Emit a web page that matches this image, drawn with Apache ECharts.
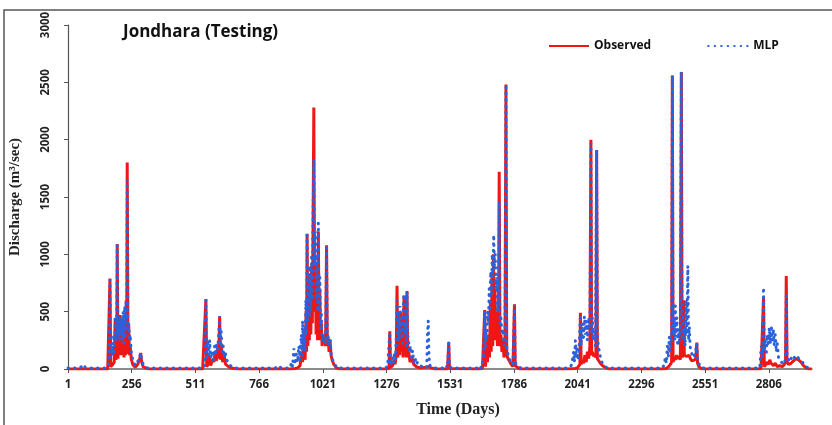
<!DOCTYPE html>
<html>
<head>
<meta charset="utf-8">
<script src="https://cdn.jsdelivr.net/npm/echarts@6/dist/echarts.min.js"></script>
<style>
  html, body { margin: 0; padding: 0; background: #fff; }
  #chart { width: 832px; height: 425px; }
</style>
</head>
<body>
<div id="chart"></div>
<script>
  // tick labels on the day axis
  const xTickLabels = [1, 256, 511, 766, 1021, 1276, 1531, 1786, 2041, 2296, 2551, 2806];
  const yTicks = [0, 500, 1000, 1500, 2000, 2500, 3000];

  // observed discharge, [day, m3/sec]
  const observed = [
    [1,0],[160,0],[166,10],[169,790],[172,20],[180,40],[186,60],[190,440],[193,80],[196,120],[198,1090],[201,90],
    [204,460],[207,150],[210,470],[213,120],[216,440],[219,180],[222,420],[225,100],[228,300],[231,120],[234,600],
    [236,130],[238,1800],[241,160],[244,380],[247,120],[250,200],[254,90],[260,40],[270,15],[280,40],[288,90],
    [292,140],[296,60],[302,20],[315,5],[330,0],
    [540,0],[548,5],[553,610],[556,20],[562,40],[568,120],[572,30],[580,80],[585,60],[590,150],[595,70],[600,200],
    [604,90],[608,460],[611,80],[615,200],[620,60],[626,120],[632,40],[640,30],[650,10],[665,5],[680,0],
    [890,0],[910,5],[920,10],[930,30],[936,150],[940,60],[945,300],[950,80],[954,500],[956,150],[958,1180],[961,200],
    [964,600],[967,250],[970,800],[973,300],[976,900],[979,400],[982,1300],[985,2280],[988,500],[991,900],[994,300],
    [997,600],[1000,250],[1003,1200],[1006,300],[1009,700],[1012,250],[1015,400],[1018,200],[1021,300],[1024,250],
    [1028,280],[1032,200],[1036,1080],[1039,200],[1042,280],[1046,150],[1050,250],[1054,120],[1058,80],[1065,40],
    [1075,10],[1090,0],
    [1270,0],[1286,5],[1289,330],[1292,10],[1300,30],[1306,80],[1310,40],[1315,120],[1318,725],[1321,100],[1325,400],
    [1328,120],[1332,500],[1335,150],[1338,300],[1342,100],[1346,640],[1349,120],[1352,250],[1355,100],[1358,680],
    [1361,100],[1365,150],[1370,60],[1378,100],[1385,40],[1395,20],[1410,10],[1430,15],[1443,20],[1455,10],[1470,0],
    [1520,0],[1522,5],[1525,230],[1528,5],[1535,0],
    [1640,0],[1660,5],[1666,20],[1669,515],[1672,20],[1676,150],[1680,60],[1684,300],[1688,100],[1692,600],[1695,150],
    [1698,800],[1701,200],[1704,1000],[1707,300],[1710,700],[1713,250],[1716,500],[1720,200],[1724,300],[1727,1720],
    [1730,200],[1734,300],[1738,150],[1742,250],[1746,100],[1750,150],[1754,2480],[1757,150],[1760,100],[1765,80],
    [1770,60],[1775,40],[1782,20],[1788,565],[1791,30],[1796,20],[1805,5],[1815,0],
    [2000,0],[2030,5],[2040,10],[2046,20],[2050,40],[2052,490],[2055,40],[2060,80],[2065,50],[2070,120],[2075,60],
    [2080,150],[2085,90],[2090,200],[2094,2000],[2097,120],[2100,150],[2105,110],[2110,130],[2114,100],[2117,1910],
    [2120,90],[2126,70],[2132,50],[2140,30],[2150,15],[2160,5],[2170,0],
    [2380,0],[2395,5],[2405,20],[2412,40],[2417,60],[2420,2560],[2423,60],[2428,100],[2432,80],[2437,120],[2442,90],
    [2447,110],[2452,80],[2456,2590],[2459,100],[2462,120],[2465,600],[2468,120],[2472,130],[2477,110],[2482,100],
    [2487,120],[2492,90],[2498,70],[2504,60],[2510,80],[2514,100],[2518,230],[2521,50],[2526,20],[2535,5],[2545,0],
    [2760,0],[2775,5],[2780,20],[2785,620],[2788,20],[2795,30],[2800,60],[2805,40],[2810,80],[2815,50],[2820,60],
    [2825,30],[2832,50],[2840,20],[2850,30],[2860,20],[2868,40],[2873,60],[2876,810],[2879,60],[2885,40],[2895,50],
    [2905,70],[2915,90],[2925,80],[2935,60],[2945,30],[2955,10],[2965,0],[2978,0]
  ];

  // MLP prediction, [day, m3/sec]
  const mlp = [
    [1,8],[40,8],[55,20],[62,40],[70,15],[90,8],[150,8],[160,20],[166,60],[169,780],[172,100],[176,200],[180,120],
    [184,300],[187,150],[190,460],[193,250],[196,400],[198,1080],[201,300],[204,450],[207,250],[210,460],[213,300],
    [216,430],[219,250],[222,500],[225,200],[228,550],[231,300],[234,600],[236,400],[238,1650],[241,350],[244,400],
    [247,250],[250,300],[254,150],[258,100],[264,60],[270,30],[278,40],[284,80],[288,110],[292,140],[296,80],
    [302,40],[310,20],[320,8],
    [530,8],[548,20],[553,600],[556,100],[560,250],[564,120],[568,250],[572,100],[578,150],[582,80],[588,200],
    [592,120],[596,220],[600,150],[604,300],[608,460],[611,200],[614,330],[618,150],[622,200],[626,100],[630,150],
    [636,80],[642,60],[650,30],[660,20],[670,8],
    [830,8],[842,30],[855,8],
    [880,8],[890,10],[896,60],[900,20],[905,180],[910,40],[915,130],[920,60],[925,200],[930,80],[935,300],[938,120],
    [940,420],[943,200],[947,350],[950,150],[953,600],[956,300],[958,1170],[961,400],[964,800],[967,450],[970,900],
    [973,500],[976,1000],[979,600],[982,1400],[985,1830],[988,900],[991,1200],[994,600],[997,1000],[1000,500],
    [1003,1270],[1006,500],[1009,800],[1012,350],[1015,500],[1018,250],[1021,300],[1024,290],[1028,300],[1032,220],
    [1036,1060],[1039,250],[1042,290],[1046,200],[1050,260],[1055,120],[1060,80],[1066,60],[1072,30],[1080,10],
    [1095,8],
    [1270,8],[1280,20],[1286,10],[1289,320],[1292,30],[1300,100],[1304,50],[1308,150],[1312,80],[1315,300],
    [1318,600],[1321,200],[1324,500],[1327,250],[1330,550],[1333,300],[1337,450],[1340,200],[1344,600],[1346,650],
    [1349,300],[1352,400],[1355,200],[1358,670],[1361,300],[1364,250],[1368,150],[1372,200],[1376,100],[1380,160],
    [1385,60],[1390,100],[1395,40],[1400,60],[1410,30],[1420,20],[1437,10],[1440,300],[1443,420],[1446,100],
    [1450,30],[1460,10],[1480,8],[1508,10],[1514,30],[1520,10],[1525,230],[1528,20],[1540,8],
    [1630,8],[1640,10],[1650,30],[1655,10],[1660,50],[1664,100],[1669,500],[1672,200],[1675,350],[1678,250],
    [1681,500],[1684,400],[1687,700],[1690,500],[1693,850],[1696,650],[1699,1000],[1702,800],[1705,1170],[1708,900],
    [1711,1000],[1714,700],[1717,800],[1720,500],[1724,600],[1727,1460],[1730,400],[1734,450],[1738,300],[1742,350],
    [1746,200],[1750,250],[1754,2460],[1757,200],[1760,150],[1765,100],[1770,80],[1776,60],[1782,40],[1788,560],
    [1791,60],[1796,40],[1805,20],[1815,8],
    [1990,8],[2005,8],[2015,30],[2020,80],[2025,150],[2028,60],[2032,250],[2035,100],[2038,200],[2042,80],[2046,150],
    [2052,470],[2055,200],[2060,400],[2064,250],[2068,460],[2072,300],[2076,420],[2080,250],[2085,450],[2090,350],
    [2094,1970],[2097,300],[2100,450],[2104,250],[2108,350],[2112,200],[2117,1910],[2120,300],[2124,200],[2128,150],
    [2134,80],[2140,50],[2148,30],[2158,10],[2175,8],
    [2370,8],[2380,8],[2386,30],[2392,100],[2396,50],[2400,200],[2404,100],[2408,280],[2412,150],[2417,300],
    [2420,2560],[2423,300],[2427,450],[2430,250],[2432,550],[2435,300],[2438,450],[2441,200],[2444,350],[2448,250],
    [2452,300],[2456,2590],[2459,250],[2462,450],[2465,300],[2468,350],[2471,200],[2475,600],[2478,300],[2482,900],
    [2485,250],[2488,370],[2491,200],[2495,150],[2500,120],[2506,100],[2512,150],[2518,220],[2521,80],[2528,40],
    [2536,10],[2550,8],
    [2750,8],[2770,10],[2776,200],[2780,100],[2785,710],[2788,150],[2792,250],[2796,120],[2800,300],[2804,200],
    [2808,360],[2812,220],[2816,380],[2820,250],[2824,350],[2828,200],[2832,300],[2836,150],[2840,220],[2845,100],
    [2850,80],[2856,60],[2862,50],[2868,40],[2873,100],[2876,640],[2879,120],[2885,80],[2890,60],[2897,100],
    [2905,80],[2912,120],[2920,110],[2928,90],[2936,80],[2945,50],[2955,20],[2965,8],[2978,8]
  ];

  const chart = echarts.init(document.getElementById('chart'));

  // axis runs from day 1, so shift everything by one day
  const shift = d => d.map(p => [p[0] - 1, p[1]]);

  chart.setOption({
    animation: false,
    backgroundColor: '#fff',
    title: {
      text: 'Jondhara (Testing)',
      left: 118,
      top: 19,
      textStyle: { fontFamily: 'Open Sans', fontWeight: 'bold', fontSize: 17, color: '#111' }
    },
    legend: {
      left: 543,
      top: 35,
      itemWidth: 40,
      itemHeight: 10,
      itemGap: 56,
      itemStyle: { opacity: 0 },
      textStyle: { fontFamily: 'Open Sans', fontWeight: 'bold', fontSize: 12, color: '#111' },
      data: ['Observed', 'MLP']
    },
    graphic: [{
      type: 'rect',
      shape: { x: 4, y: 10, width: 840, height: 430 },
      style: { fill: null, stroke: '#555', lineWidth: 1.5 },
      silent: true
    }],
    grid: { left: 68, right: 20, top: 25, bottom: 56 },
    xAxis: {
      type: 'value',
      min: 0,
      max: 2978,
      name: 'Time (Days)',
      nameLocation: 'middle',
      nameGap: 33,
      nameTextStyle: {
        fontFamily: 'Liberation Serif', fontWeight: 'bold', fontSize: 16, color: '#222',
        padding: [0, 0, 0, 36]
      },
      splitLine: { show: false },
      axisLine: { lineStyle: { color: '#666', width: 1.5 } },
      axisTick: {
        length: 4,
        customValues: xTickLabels.map(v => v - 1),
        lineStyle: { color: '#555' }
      },
      axisLabel: {
        customValues: xTickLabels.map(v => v - 1),
        formatter: v => String(v + 1),
        margin: 10,
        fontFamily: 'Open Sans', fontWeight: 'bold', fontSize: 11.5, color: '#222'
      }
    },
    yAxis: {
      type: 'value',
      min: yTicks[0],
      max: yTicks[yTicks.length - 1],
      interval: 500,
      name: 'Discharge (m³/sec)',
      nameLocation: 'middle',
      nameGap: 45,
      nameTextStyle: { fontFamily: 'Liberation Serif', fontWeight: 'bold', fontSize: 15, color: '#222' },
      splitLine: { show: false },
      axisLine: { show: true, lineStyle: { color: '#555', width: 1.2 } },
      axisTick: { show: true, length: 4, lineStyle: { color: '#555' } },
      axisLabel: {
        rotate: 90,
        margin: 16,
        formatter: v => String(v),
        fontFamily: 'Open Sans', fontWeight: 'bold', fontSize: 11.5, color: '#222'
      }
    },
    series: [{
      name: 'Observed',
      type: 'line',
      data: shift(observed),
      symbol: 'none',
      lineStyle: { color: '#f01616', width: 3 },
      itemStyle: { color: '#f01616' },
      z: 2
    }, {
      name: 'MLP',
      type: 'line',
      data: shift(mlp),
      symbol: 'none',
      lineStyle: { color: '#2b62dc', width: 3, type: [0.5, 6], cap: 'round' },
      itemStyle: { color: '#2b62dc' },
      z: 3
    }]
  });
</script>
</body>
</html>
